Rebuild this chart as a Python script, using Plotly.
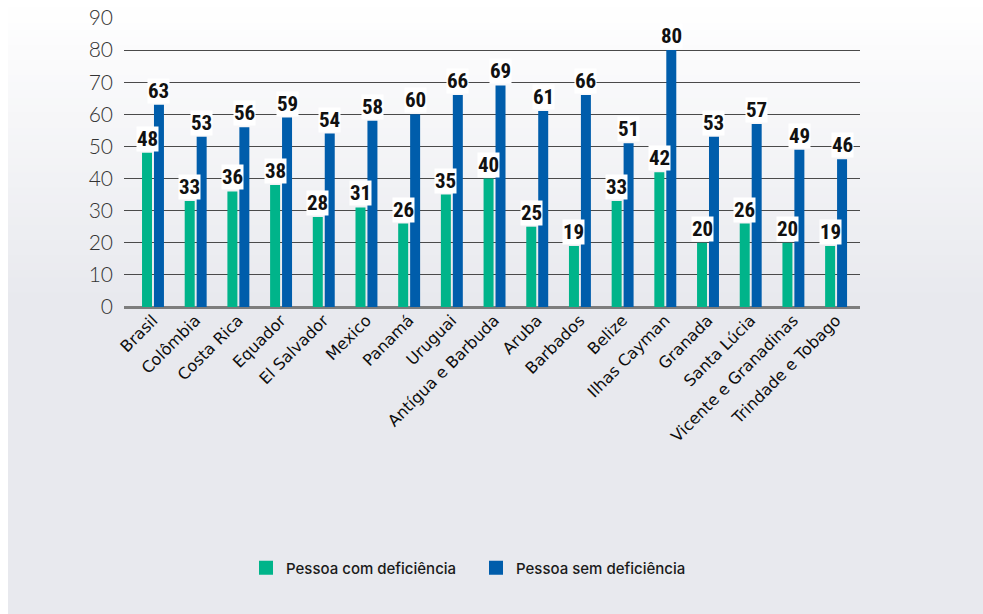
import plotly.graph_objects as go

# Taxa por país (%), pessoas com e sem deficiência
paises = [
    "Brasil", "Colômbia", "Costa Rica", "Equador", "El Salvador", "Mexico",
    "Panamá", "Uruguai", "Antígua e Barbuda", "Aruba", "Barbados", "Belize",
    "Ilhas Cayman", "Granada", "Santa Lúcia", "Vicente e Granadinas",
    "Trindade e Tobago",
]
com_deficiencia = [48, 33, 36, 38, 28, 31, 26, 35, 40, 25, 19, 33, 42, 20, 26, 20, 19]
sem_deficiencia = [63, 53, 56, 59, 54, 58, 60, 66, 69, 61, 66, 51, 80, 53, 57, 49, 46]

nome_com = "Pessoa com deficiência"
nome_sem = "Pessoa sem deficiência"
cor_com = "#00b48a"
cor_sem = "#005dab"

W, H = 983, 614
x_idx = list(range(len(paises)))

largura = 0.234
desloc_com = -0.257
desloc_sem = 0.023

fig = go.Figure()

fig.add_trace(go.Bar(
    x=x_idx, y=com_deficiencia, name=nome_com, marker_color=cor_com,
    width=largura, offset=desloc_com, showlegend=False, hoverinfo="y",
))
fig.add_trace(go.Bar(
    x=x_idx, y=sem_deficiencia, name=nome_sem, marker_color=cor_sem,
    width=largura, offset=desloc_sem, showlegend=False, hoverinfo="y",
))

# legend entries with larger square swatches
for nome, cor in [(nome_com, cor_com), (nome_sem, cor_sem)]:
    fig.add_trace(go.Scatter(
        x=[None], y=[None], mode="markers", name=nome,
        marker=dict(symbol="square", size=14, color=cor),
    ))

# value labels on a white box above each bar
fonte_rotulo = dict(family="Roboto Condensed, Liberation Sans Narrow, Arial Narrow, Roboto, sans-serif",
                    size=21, color="#111111", weight="bold")
for i in x_idx:
    for valores, desloc in [(com_deficiencia, desloc_com), (sem_deficiencia, desloc_sem)]:
        fig.add_annotation(
            x=i + desloc + largura / 2, y=valores[i], text=str(valores[i]),
            showarrow=False, yanchor="bottom", xanchor="center",
            bgcolor="white", borderpad=0, font=fonte_rotulo, yshift=1,
        )

# page background: white strip on the left, then a soft vertical gradient
fig.add_shape(type="rect", xref="paper", yref="paper", x0=0, x1=1, y0=0, y1=1,
              fillcolor="#e8e9ee", line_width=0, layer="below")
passos = 40
topo = (255, 255, 255)
base = (232, 233, 238)
altura_grad = 300
for k in range(passos):
    t = (k + 0.5) / passos
    c = tuple(round(topo[j] + (base[j] - topo[j]) * t) for j in range(3))
    y_top = altura_grad * k / passos
    y_bot = altura_grad * (k + 1) / passos + 1
    fig.add_shape(type="rect", xref="paper", yref="paper",
                  x0=0, x1=1, y0=1 - y_bot / H, y1=1 - y_top / H,
                  fillcolor="rgb(%d,%d,%d)" % c, line_width=0, layer="below")
fig.add_shape(type="rect", xref="paper", yref="paper", x0=0, x1=8 / W, y0=0, y1=1,
              fillcolor="white", line_width=0, layer="below")

fig.update_layout(
    width=W, height=H,
    margin=dict(l=0, r=0, t=0, b=0),
    paper_bgcolor="white",
    plot_bgcolor="rgba(0,0,0,0)",
    template="none",
    barmode="overlay",
    xaxis=dict(
        domain=[124 / W, 860 / W],
        range=[-0.679, 16.56],
        tickmode="array", tickvals=x_idx, ticktext=paises,
        tickangle=-45, showgrid=False, zeroline=False, showline=False,
        ticks="", automargin=False,
        tickfont=dict(family="DejaVu Sans, sans-serif", size=16, color="#0d0d0d"),
    ),
    yaxis=dict(
        domain=[1 - 307 / H, 1 - 18 / H],
        range=[0, 90], dtick=10, tick0=0,
        showgrid=True, gridcolor="#4a4a4a", gridwidth=1.4,
        zeroline=True, zerolinecolor="#7d7d7d", zerolinewidth=2.5,
        showline=False, ticks="", automargin=False, ticklabelstandoff=10,
        tickfont=dict(family="Lato, sans-serif", size=21, color="#333333", weight=300),
    ),
    legend=dict(
        orientation="h", x=246 / W, xanchor="left", y=1 - 568 / H, yanchor="middle",
        bgcolor="rgba(0,0,0,0)", font=dict(family="Inter, sans-serif", size=15,
                                            color="#1a1a1a", weight=500),
        entrywidth=185, entrywidthmode="pixels",
    ),
    showlegend=True,
    hovermode=False,
)

fig.write_html("out.html")
